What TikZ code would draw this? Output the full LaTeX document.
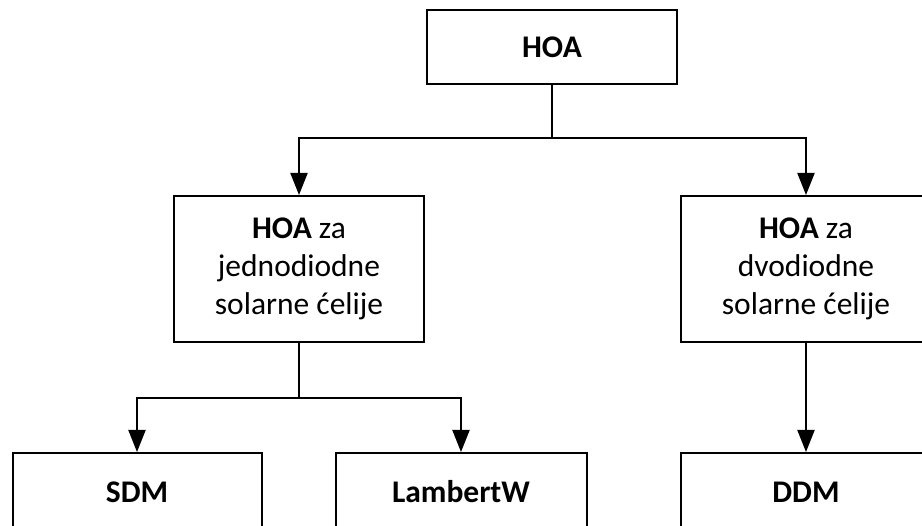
\documentclass[tikz,border=0pt]{standalone}
\usepackage{fontspec}
\setmainfont{Carlito}
\usetikzlibrary{arrows.meta}
\begin{document}
\begin{tikzpicture}[x=1pt,y=-1pt,
  box/.style={draw=black,line width=2pt,fill=white,inner sep=0pt,align=center,
    font=\fontsize{31.5}{38}\selectfont},
  conn/.style={draw=black,line width=2pt},
  arr/.style={conn,-{Triangle[length=22pt,width=17pt]}}]
\useasboundingbox (0,0) rectangle (922,526);
\clip (0,0) rectangle (922,526);
\node[box,minimum width=250pt,minimum height=74pt] (hoa) at (552,47) {\textbf{HOA}};
\node[box,minimum width=250pt,minimum height=146pt] (left) at (299,269) {\textbf{HOA} za\\jednodiodne\\solarne ćelije};
\node[box,minimum width=250pt,minimum height=146pt] (right) at (806,269) {\textbf{HOA} za\\dvodiodne\\solarne ćelije};
\node[box,minimum width=249pt,minimum height=78pt] (sdm) at (137,492) {\textbf{SDM}};
\node[box,minimum width=251pt,minimum height=78pt] (lam) at (461,492) {\textbf{LambertW}};
\node[box,minimum width=250pt,minimum height=78pt] (ddm) at (806,492) {\textbf{DDM}};
\coordinate (j1) at (552,138);
\coordinate (j2) at (299,398);
\draw[conn] (hoa.south) -- (j1);
\draw[arr] (j1) -| (left.north);
\draw[arr] (j1) -| (right.north);
\draw[conn] (left.south) -- (j2);
\draw[arr] (j2) -| (sdm.north);
\draw[arr] (j2) -| (lam.north);
\draw[arr] (right.south) -- (ddm.north);
\end{tikzpicture}
\end{document}
